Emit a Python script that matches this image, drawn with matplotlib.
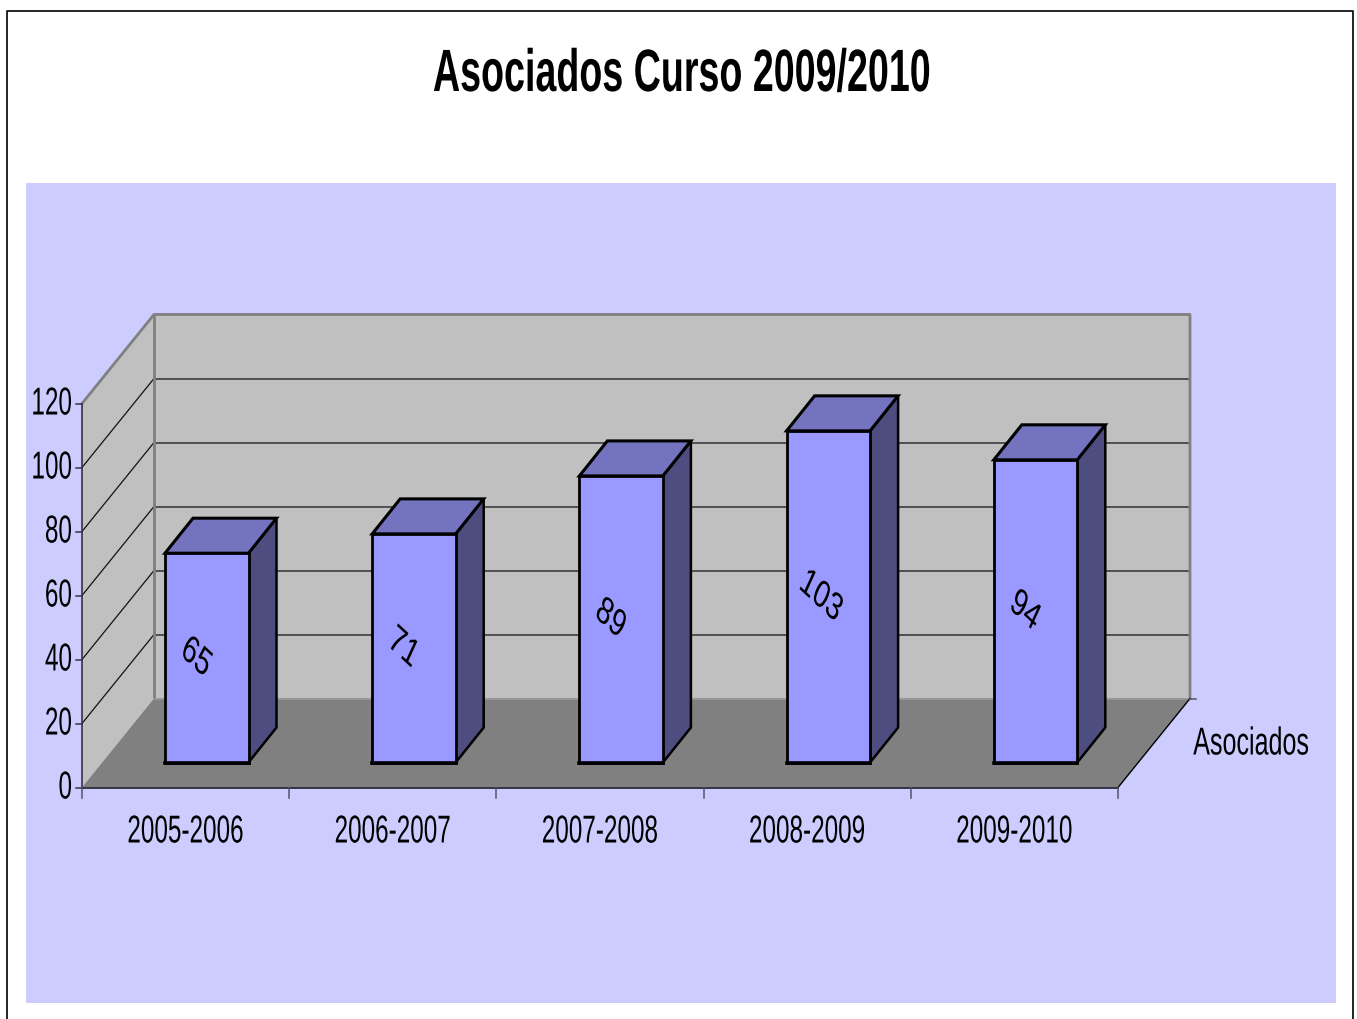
import matplotlib
matplotlib.use('Agg')
import matplotlib.pyplot as plt
from matplotlib.patches import Polygon, Rectangle
from matplotlib.patheffects import AbstractPathEffect
from matplotlib.transforms import Affine2D

cursos = ['2005-2006', '2006-2007', '2007-2008', '2008-2009', '2009-2010']
asociados = [65, 71, 89, 103, 94]
yticks = [0, 20, 40, 60, 80, 100, 120]
serie = 'Asociados'
titulo = 'Asociados Curso 2009/2010'

plt.rcParams['font.family'] = 'Liberation Sans'

W, H = 1357, 1020
fig = plt.figure(figsize=(W / 100, H / 100), dpi=100, facecolor='white')
ax = fig.add_axes([0, 0, 1, 1])
ax.set_xlim(0, W)
ax.set_ylim(H - 0.5, -0.5)
ax.axis('off')

# 3d box, pixels of the front corner and of the depth
x0, x1, y0 = 82, 1118, 788
dx, dy = 72, -89
per_unit = 3.2
bar_unit = 3.22
slot = (x1 - x0) / len(cursos)


class Narrow(AbstractPathEffect):
    # the reference font is condensed, squeeze the glyphs around the anchor
    def __init__(self, cx, sx):
        super().__init__()
        self.cx = cx
        self.sx = sx

    def draw_path(self, renderer, gc, tpath, affine, rgbFace=None):
        squeeze = Affine2D().translate(-self.cx, 0).scale(self.sx, 1).translate(self.cx, 0)
        renderer.draw_path(gc, tpath, affine + squeeze, rgbFace)


def label(x, y, s, sx=0.625, **kw):
    t = ax.text(x, y, s, va='center', color='black', **kw)
    t.set_path_effects([Narrow(x, sx)])
    return t


def py(v):
    return y0 - v * per_unit


def poly(pts, fc, ec='none', lw=0, z=2):
    ax.add_patch(Polygon(pts, closed=True, fc=fc, ec=ec, lw=lw, joinstyle='miter', zorder=z))


# page frame and chart area
ax.plot([7, 7, 1353, 1353], [H + 5, 11, 11, H + 5], color='black', lw=1.2, zorder=1)
ax.add_patch(Rectangle((26, 183), 1310, 820, fc='#CCCCFF', ec='none', zorder=1))

top = py(yticks[-1])
gray = '#808080'
poly([(x0 + dx, y0 + dy), (x1 + dx, y0 + dy), (x1 + dx, top + dy), (x0 + dx, top + dy)], '#C0C0C0')
poly([(x0, y0), (x0 + dx, y0 + dy), (x0 + dx, top + dy), (x0, top)], '#C0C0C0')
poly([(x0, y0), (x1, y0), (x1 + dx, y0 + dy), (x0 + dx, y0 + dy)], gray)

# gridlines on both walls
for v in yticks[1:-1]:
    y = py(v)
    ax.plot([x0, x0 + dx], [y, y + dy], color='#111111', lw=0.9, zorder=3)
    ax.plot([x0 + dx, x1 + dx], [y + dy, y + dy], color='#333333', lw=1.1, zorder=3)

# wall edges
ax.plot([x0, x0 + dx, x1 + dx, x1 + dx], [top, top + dy, top + dy, y0 + dy], color=gray, lw=2, zorder=3)
ax.plot([x0 + dx, x0 + dx], [top + dy, y0 + dy], color=gray, lw=2, zorder=3)
ax.plot([x0 + dx, x1 + dx], [y0 + dy, y0 + dy], color='#999999', lw=1.2, zorder=3)

# axes
axc = '#333344'
ax.plot([x0, x0], [top, y0], color=axc, lw=1.2, zorder=4)
ax.plot([x0, x1], [y0, y0], color=axc, lw=1.4, zorder=4)
ax.plot([x1, x1 + dx], [y0, y0 + dy], color='black', lw=1.0, zorder=4)
for v in yticks:
    ax.plot([x0 - 6, x0], [py(v), py(v)], color=axc, lw=1.1, zorder=4)
    label(x0 - 10, py(v) + 1, str(v), ha='right', fontsize=28)
for i in range(len(cursos) + 1):
    x = x0 + i * slot
    ax.plot([x, x], [y0, y0 + 10], color='#555566', lw=1.1, zorder=4)
ax.plot([x1 + dx, x1 + dx + 6], [y0 + dy, y0 + dy], color='#555566', lw=1.1, zorder=4)

# bars
bw = 83.5
bdx, bdy = 28, -35
base = 763
for i, (c, v) in enumerate(zip(cursos, asociados)):
    left = 165 + i * slot
    right = left + bw
    ytop = base - v * bar_unit
    z = 5 + i
    poly([(right, base), (right + bdx, base + bdy), (right + bdx, ytop + bdy), (right, ytop)], '#4D4D80', 'black', 1.8, z)
    poly([(left, ytop), (right, ytop), (right + bdx, ytop + bdy), (left + bdx, ytop + bdy)], '#7373BF', 'black', 2.2, z)
    poly([(left, base), (right, base), (right, ytop), (left, ytop)], '#9999FF', 'black', 2.0, z)
    ax.plot([left, right], [base, base], color='black', lw=2.6, zorder=z)
    label(left + (34 if v > 99 else 31), base - v * bar_unit * 0.5, str(v), sx=0.7, rotation=-33,
          rotation_mode='anchor', ha='center', fontsize=28, zorder=20)
    label(x0 + (i + 0.5) * slot, 833, c, ha='center', fontsize=28)

label(1251, 745, serie, sx=0.645, ha='center', fontsize=28)
label(682, 76, titulo, sx=0.63, ha='center', fontsize=43, weight='bold')

fig.savefig('out.png', dpi=100, facecolor='white')
